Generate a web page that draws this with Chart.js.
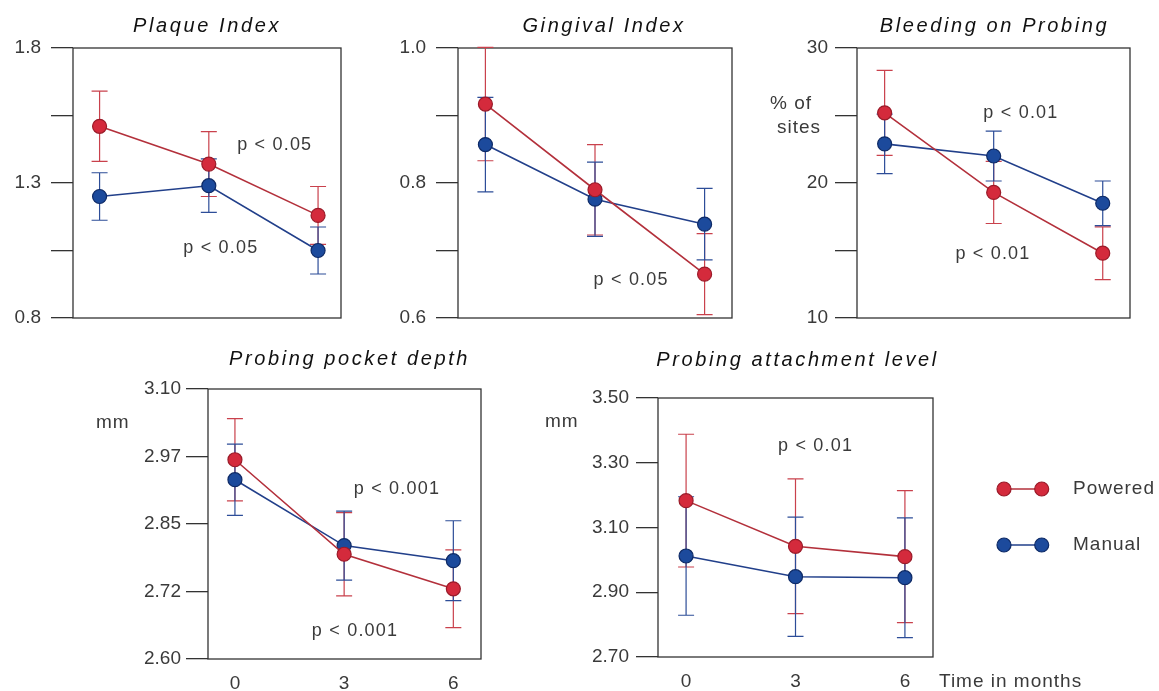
<!DOCTYPE html>
<html>
<head>
<meta charset="utf-8">
<title>Powered vs manual toothbrush – clinical indices</title>
<script src="https://cdn.jsdelivr.net/npm/chart.js@4.4.1/dist/chart.umd.min.js"></script>
<style>
  html, body { margin: 0; padding: 0; background: #fff; }
  #wrap { position: relative; width: 1159px; height: 691px; overflow: hidden; }
  #wrap canvas { position: absolute; }
</style>
</head>
<body>
<div id="wrap"></div>
<script>
// time points (months) and series
const months = [0, 3, 6];
const monthLabels = ['0', '3', '6'];
const seriesNames = ['Powered', 'Manual'];

// Plaque Index
const plaquePowered = [1.51, 1.37, 1.18];
const plaquePoweredErr = [0.13, 0.12, 0.107];
const plaqueManual = [1.25, 1.29, 1.05];
const plaqueManualErr = [0.088, 0.099, 0.087];
const plaqueTicks = [0.8, 1.05, 1.3, 1.55, 1.8];
const plaqueTickLabels = ['0.8', '', '1.3', '', '1.8'];

// Gingival Index
const gingivalPowered = [0.917, 0.790, 0.665];
const gingivalPoweredErr = [0.084, 0.067, 0.06];
const gingivalManual = [0.857, 0.776, 0.739];
const gingivalManualErr = [0.07, 0.055, 0.053];
const gingivalTicks = [0.6, 0.7, 0.8, 0.9, 1.0];
const gingivalTickLabels = ['0.6', '', '0.8', '', '1.0'];

// Bleeding on probing (% of sites)
const bopPowered = [25.2, 19.3, 14.8];
const bopPoweredErr = [3.15, 2.3, 1.95];
const bopManual = [22.9, 22.0, 18.5];
const bopManualErr = [2.2, 1.85, 1.65];
const bopTicks = [10, 15, 20, 25, 30];
const bopTickLabels = ['10', '', '20', '', '30'];

// Probing pocket depth (mm)
const ppdPowered = [2.969, 2.794, 2.730];
const ppdPoweredErr = [0.076, 0.077, 0.072];
const ppdManual = [2.932, 2.810, 2.782];
const ppdManualErr = [0.066, 0.064, 0.074];
const ppdTicks = [2.6, 2.725, 2.85, 2.975, 3.1];
const ppdTickLabels = ['2.60', '2.72', '2.85', '2.97', '3.10'];

// Probing attachment level (mm)
const palPowered = [3.183, 3.042, 3.010];
const palPoweredErr = [0.205, 0.208, 0.204];
const palManual = [3.012, 2.948, 2.945];
const palManualErr = [0.183, 0.184, 0.185];
const palTicks = [2.7, 2.9, 3.1, 3.3, 3.5];
const palTickLabels = ['2.70', '2.90', '3.10', '3.30', '3.50'];

const FONT = "'Liberation Sans', Arial, Helvetica, sans-serif";
const TEXT = '#3a3a3a';
const AXIS = '#333';

const styles = [
  { line: '#b3303b', fill: '#d42a3c', edge: '#9a1b29', err: '#c9414c' },
  { line: '#213f8a', fill: '#1c4a9c', edge: '#0e2a66', err: '#2d4d98' }
];

const panels = [
  { id: 'plaque', title: 'Plaque Index', box: [73, 48, 341, 318], xMin: -0.73, xMax: 6.63,
    ticks: plaqueTicks, tickLabels: plaqueTickLabels, tickPad: 10,
    series: [[plaquePowered, plaquePoweredErr], [plaqueManual, plaqueManualErr]],
    notes: [{ text: 'p < 0.05', x: 4.81, y: 1.44 }, { text: 'p < 0.05', x: 3.33, y: 1.058 }],
    titleDx: 0, titleDy: -16, showX: false, side: [] },
  { id: 'gingival', title: 'Gingival Index', box: [458, 48, 732, 318], xMin: -0.75, xMax: 6.75,
    ticks: gingivalTicks, tickLabels: gingivalTickLabels, tickPad: 10,
    series: [[gingivalPowered, gingivalPoweredErr], [gingivalManual, gingivalManualErr]],
    notes: [{ text: 'p < 0.05', x: 3.99, y: 0.656 }],
    titleDx: 9, titleDy: -16, showX: false, side: [] },
  { id: 'bop', title: 'Bleeding on Probing', box: [857, 48, 1130, 318], xMin: -0.76, xMax: 6.75,
    ticks: bopTicks, tickLabels: bopTickLabels, tickPad: 7,
    series: [[bopPowered, bopPoweredErr], [bopManual, bopManualErr]],
    notes: [{ text: 'p < 0.01', x: 3.75, y: 25.16 }, { text: 'p < 0.01', x: 2.98, y: 14.72 }],
    titleDx: 1, titleDy: -16, showX: false,
    side: [{ text: '% of', dx: -87, dy: 56 }, { text: 'sites', dx: -80, dy: 80 }] },
  { id: 'ppd', title: 'Probing pocket depth', box: [208, 389, 481, 659], xMin: -0.74, xMax: 6.76,
    ticks: ppdTicks, tickLabels: ppdTickLabels, tickPad: 5,
    series: [[ppdPowered, ppdPoweredErr], [ppdManual, ppdManualErr]],
    notes: [{ text: 'p < 0.001', x: 4.45, y: 2.914 }, { text: 'p < 0.001', x: 3.30, y: 2.652 }],
    titleDx: 5, titleDy: -24, showX: true,
    side: [{ text: 'mm', dx: -112, dy: 34 }] },
  { id: 'pal', title: 'Probing attachment level', box: [658, 398, 933, 657], xMin: -0.77, xMax: 6.77,
    ticks: palTicks, tickLabels: palTickLabels, tickPad: 7,
    series: [[palPowered, palPoweredErr], [palManual, palManualErr]],
    notes: [{ text: 'p < 0.01', x: 3.55, y: 3.351 }],
    titleDx: 2, titleDy: -32, showX: true, legend: true, wide: true,
    side: [{ text: 'mm', dx: -113, dy: 24 }, { text: 'Time in months', dx: 281, dy: 284 }] }
];

function drawText(ctx, text, x, y, font, color, spacing, align, baseline) {
  ctx.save();
  ctx.font = font;
  ctx.fillStyle = color;
  ctx.textAlign = align || 'left';
  ctx.textBaseline = baseline || 'middle';
  if ('letterSpacing' in ctx) ctx.letterSpacing = spacing + 'px';
  ctx.fillText(text, x, y);
  ctx.restore();
}

// box, error bars, titles, p-value notes, side captions and legend
const panelDecor = {
  id: 'panelDecor',
  beforeDatasetsDraw(chart, args, opts) {
    const { ctx, chartArea: a, scales } = chart;
    ctx.save();
    ctx.strokeStyle = AXIS;
    ctx.lineWidth = 1.3;
    ctx.strokeRect(a.left, a.top, a.right - a.left, a.bottom - a.top);
    opts.series.forEach((s, si) => {
      ctx.strokeStyle = styles[si].err;
      ctx.lineWidth = 1.2;
      months.forEach((m, i) => {
        const x = scales.x.getPixelForValue(m);
        const y1 = scales.y.getPixelForValue(s[0][i] + s[1][i]);
        const y2 = scales.y.getPixelForValue(s[0][i] - s[1][i]);
        ctx.beginPath();
        ctx.moveTo(x, y1); ctx.lineTo(x, y2);
        ctx.moveTo(x - 8, y1); ctx.lineTo(x + 8, y1);
        ctx.moveTo(x - 8, y2); ctx.lineTo(x + 8, y2);
        ctx.stroke();
      });
    });
    ctx.restore();
  },
  afterDatasetsDraw(chart, args, opts) {
    const { ctx, chartArea: a, scales } = chart;
    const cx = (a.left + a.right) / 2 + opts.titleDx;
    drawText(ctx, opts.title, cx, a.top + opts.titleDy, 'italic 20px ' + FONT, '#111', 2.6, 'center', 'alphabetic');
    opts.notes.forEach(n => {
      drawText(ctx, n.text, scales.x.getPixelForValue(n.x), scales.y.getPixelForValue(n.y),
        '18px ' + FONT, TEXT, 1.2, 'center');
    });
    opts.side.forEach(s => {
      drawText(ctx, s.text, a.left + s.dx, a.top + s.dy, '19px ' + FONT, TEXT, 1, 'left');
    });
    if (opts.legend) {
      chart.data.datasets.forEach((ds, i) => {
        const y = a.top + 91 + i * 56;
        const x1 = a.right + 71, x2 = a.right + 108.7;
        ctx.save();
        ctx.strokeStyle = ds.borderColor;
        ctx.lineWidth = 1.6;
        ctx.beginPath(); ctx.moveTo(x1, y); ctx.lineTo(x2, y); ctx.stroke();
        [x1, x2].forEach(x => {
          ctx.beginPath();
          ctx.arc(x, y, 7, 0, Math.PI * 2);
          ctx.fillStyle = ds.pointBackgroundColor;
          ctx.fill();
          ctx.lineWidth = 1.2;
          ctx.strokeStyle = ds.pointBorderColor;
          ctx.stroke();
        });
        ctx.restore();
        drawText(ctx, ds.label, a.right + 140, y, '19px ' + FONT, TEXT, 1, 'left');
      });
    }
  }
};

const AX = 125;   // room left of each box for tick labels and captions
const TOP = 56;   // room above each box for the title
const XH = 40;    // room below each box

const wrap = document.getElementById('wrap');

panels.forEach(p => {
  const [l, t, r, b] = p.box;
  const boxW = r - l, boxH = b - t;
  const left = l - AX, top = t - TOP;
  const width = p.wide ? 1159 - left : boxW + AX + 12;
  const height = TOP + boxH + XH;

  const canvas = document.createElement('canvas');
  canvas.id = p.id;
  canvas.width = width;
  canvas.height = height;
  canvas.style.left = left + 'px';
  canvas.style.top = top + 'px';
  canvas.style.width = width + 'px';
  canvas.style.height = height + 'px';
  wrap.appendChild(canvas);

  const datasets = p.series.map((s, si) => ({
    label: seriesNames[si],
    data: months.map((m, i) => ({ x: m, y: s[0][i] })),
    borderColor: styles[si].line,
    borderWidth: 1.6,
    pointRadius: 7,
    pointBackgroundColor: styles[si].fill,
    pointBorderColor: styles[si].edge,
    pointBorderWidth: 1.2,
    tension: 0,
    clip: false
  }));

  new Chart(canvas.getContext('2d'), {
    type: 'line',
    data: { datasets },
    options: {
      responsive: false,
      animation: false,
      devicePixelRatio: 1,
      layout: { padding: { left: 0, top: TOP, right: width - AX - boxW, bottom: 0 } },
      plugins: {
        legend: { display: false },
        tooltip: { enabled: false },
        panelDecor: p
      },
      scales: {
        x: {
          type: 'linear',
          min: p.xMin,
          max: p.xMax,
          afterBuildTicks: s => { s.ticks = months.map(v => ({ value: v })); },
          afterFit: s => { s.height = XH; },
          grid: { display: false, drawTicks: false },
          border: { display: false },
          ticks: {
            display: p.showX,
            autoSkip: false,
            maxRotation: 0,
            padding: 13,
            color: TEXT,
            font: { family: FONT, size: 19 },
            callback: (v, i) => monthLabels[i]
          }
        },
        y: {
          type: 'linear',
          min: p.ticks[0],
          max: p.ticks[p.ticks.length - 1],
          afterBuildTicks: s => { s.ticks = p.ticks.map(v => ({ value: v })); },
          afterFit: s => { s.width = AX; },
          grid: { drawOnChartArea: false, drawTicks: true, tickLength: 22, color: AXIS, lineWidth: 1.3 },
          border: { display: false },
          ticks: {
            autoSkip: false,
            padding: p.tickPad,
            color: TEXT,
            font: { family: FONT, size: 19 },
            callback: (v, i) => p.tickLabels[i]
          }
        }
      }
    },
    plugins: [panelDecor]
  });
});
</script>
</body>
</html>
